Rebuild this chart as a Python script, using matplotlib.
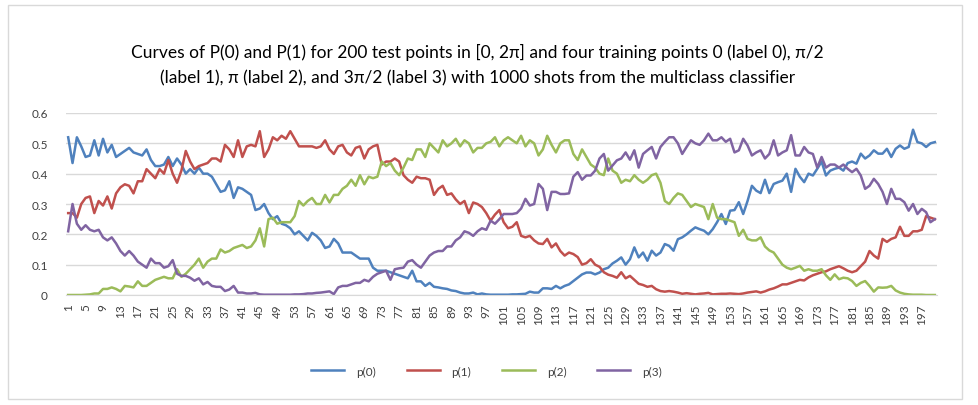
import numpy as np
import matplotlib
matplotlib.use("Agg")
import matplotlib.pyplot as plt
from matplotlib.patches import Rectangle

plt.rcParams['font.family'] = ['Lato', 'DejaVu Sans']

# test point index 1..200
points = list(range(1, 201))

p0 = [0.52, 0.435, 0.52, 0.49, 0.455, 0.46, 0.51, 0.46, 0.515, 0.47,
      0.495, 0.455, 0.465, 0.475, 0.485, 0.47, 0.465, 0.46, 0.48, 0.445,
      0.425, 0.425, 0.43, 0.455, 0.425, 0.45, 0.43, 0.40, 0.415, 0.40,
      0.42, 0.40, 0.40, 0.39, 0.365, 0.34, 0.345, 0.375, 0.32, 0.355,
      0.35, 0.34, 0.33, 0.28, 0.285, 0.30, 0.27, 0.25, 0.26, 0.235,
      0.23, 0.22, 0.20, 0.21, 0.195, 0.18, 0.205, 0.195, 0.18, 0.155,
      0.16, 0.185, 0.17, 0.14, 0.14, 0.14, 0.13, 0.12, 0.12, 0.12,
      0.09, 0.08, 0.08, 0.08, 0.075, 0.07, 0.065, 0.06, 0.055, 0.08,
      0.045, 0.045, 0.03, 0.04, 0.027, 0.025, 0.022, 0.02, 0.015, 0.013,
      0.008, 0.005, 0.005, 0.008, 0.002, 0.005, 0.002, 0.001, 0.001, 0.001,
      0.001, 0.001, 0.002, 0.002, 0.003, 0.004, 0.011, 0.008, 0.008, 0.022,
      0.022, 0.02, 0.03, 0.022, 0.03, 0.035, 0.046, 0.057, 0.068, 0.074,
      0.074, 0.068, 0.074, 0.085, 0.09, 0.104, 0.113, 0.124, 0.10, 0.118,
      0.157, 0.124, 0.14, 0.113, 0.146, 0.13, 0.14, 0.168, 0.162, 0.146,
      0.184, 0.19, 0.20, 0.212, 0.223, 0.217, 0.212, 0.20, 0.217, 0.24,
      0.267, 0.234, 0.278, 0.28, 0.306, 0.267, 0.31, 0.36, 0.344, 0.336,
      0.38, 0.336, 0.366, 0.372, 0.377, 0.40, 0.34, 0.416, 0.39, 0.372,
      0.40, 0.394, 0.416, 0.44, 0.394, 0.41, 0.416, 0.42, 0.41, 0.435,
      0.44, 0.433, 0.466, 0.45, 0.46, 0.477, 0.466, 0.466, 0.482, 0.455,
      0.482, 0.493, 0.482, 0.488, 0.545, 0.504, 0.50, 0.488, 0.50, 0.504]

p1 = [0.27, 0.27, 0.255, 0.30, 0.32, 0.325, 0.27, 0.31, 0.295, 0.325,
      0.285, 0.335, 0.355, 0.365, 0.36, 0.335, 0.375, 0.375, 0.415, 0.40,
      0.385, 0.415, 0.40, 0.445, 0.40, 0.37, 0.41, 0.475, 0.44, 0.415,
      0.425, 0.43, 0.435, 0.45, 0.45, 0.44, 0.495, 0.48, 0.455, 0.51,
      0.455, 0.49, 0.495, 0.49, 0.54, 0.455, 0.48, 0.52, 0.51, 0.525,
      0.515, 0.54, 0.515, 0.49, 0.49, 0.49, 0.49, 0.485, 0.49, 0.51,
      0.48, 0.465, 0.49, 0.495, 0.47, 0.46, 0.485, 0.49, 0.45, 0.48,
      0.49, 0.495, 0.43, 0.44, 0.44, 0.45, 0.44, 0.395, 0.38, 0.37,
      0.39, 0.385, 0.385, 0.38, 0.33, 0.35, 0.36, 0.33, 0.335, 0.315,
      0.30, 0.31, 0.27, 0.305, 0.30, 0.29, 0.27, 0.245, 0.265, 0.28,
      0.24, 0.22, 0.225, 0.24, 0.195, 0.19, 0.195, 0.18, 0.17, 0.168,
      0.185, 0.157, 0.17, 0.145, 0.13, 0.14, 0.135, 0.125, 0.10, 0.105,
      0.118, 0.10, 0.093, 0.075, 0.067, 0.063, 0.057, 0.075, 0.055, 0.063,
      0.05, 0.037, 0.033, 0.027, 0.03, 0.019, 0.013, 0.011, 0.013, 0.011,
      0.008, 0.004, 0.006, 0.004, 0.002, 0.004, 0.005, 0.007, 0.002, 0.003,
      0.004, 0.004, 0.005, 0.004, 0.003, 0.005, 0.008, 0.01, 0.012, 0.008,
      0.012, 0.018, 0.022, 0.028, 0.035, 0.035, 0.04, 0.045, 0.05, 0.048,
      0.058, 0.065, 0.07, 0.075, 0.078, 0.085, 0.09, 0.095, 0.088, 0.08,
      0.075, 0.08, 0.095, 0.11, 0.145, 0.13, 0.12, 0.185, 0.175, 0.185,
      0.19, 0.225, 0.195, 0.195, 0.21, 0.21, 0.215, 0.26, 0.255, 0.25]

p2 = [0.0, 0.0, 0.0, 0.0, 0.001, 0.002, 0.005, 0.005, 0.02, 0.02,
      0.025, 0.02, 0.012, 0.03, 0.028, 0.025, 0.045, 0.03, 0.03, 0.04,
      0.05, 0.055, 0.06, 0.055, 0.055, 0.085, 0.06, 0.07, 0.085, 0.10,
      0.12, 0.09, 0.11, 0.12, 0.12, 0.15, 0.14, 0.145, 0.155, 0.16,
      0.165, 0.155, 0.16, 0.18, 0.22, 0.16, 0.25, 0.255, 0.235, 0.24,
      0.24, 0.24, 0.26, 0.31, 0.295, 0.31, 0.32, 0.30, 0.30, 0.33,
      0.305, 0.33, 0.33, 0.35, 0.36, 0.38, 0.36, 0.395, 0.365, 0.39,
      0.385, 0.39, 0.44, 0.425, 0.435, 0.41, 0.395, 0.42, 0.45, 0.445,
      0.48, 0.48, 0.455, 0.50, 0.485, 0.47, 0.51, 0.49, 0.50, 0.515,
      0.49, 0.51, 0.50, 0.47, 0.485, 0.485, 0.50, 0.505, 0.52, 0.49,
      0.51, 0.52, 0.51, 0.50, 0.525, 0.49, 0.51, 0.50, 0.46, 0.48,
      0.525, 0.495, 0.47, 0.50, 0.51, 0.51, 0.465, 0.445, 0.48, 0.455,
      0.43, 0.42, 0.40, 0.395, 0.45, 0.41, 0.40, 0.37, 0.38, 0.375,
      0.395, 0.38, 0.37, 0.38, 0.395, 0.40, 0.37, 0.31, 0.30, 0.32,
      0.335, 0.33, 0.31, 0.29, 0.30, 0.295, 0.29, 0.25, 0.30, 0.255,
      0.25, 0.25, 0.245, 0.24, 0.195, 0.215, 0.185, 0.18, 0.18, 0.19,
      0.16, 0.147, 0.14, 0.12, 0.10, 0.09, 0.085, 0.09, 0.096, 0.08,
      0.085, 0.08, 0.08, 0.085, 0.065, 0.05, 0.068, 0.052, 0.057, 0.055,
      0.046, 0.03, 0.04, 0.046, 0.03, 0.011, 0.025, 0.024, 0.025, 0.03,
      0.015, 0.008, 0.004, 0.002, 0.001, 0.001, 0.001, 0.0, 0.0, 0.0]

p3 = [0.21, 0.30, 0.235, 0.215, 0.23, 0.215, 0.21, 0.215, 0.19, 0.18,
      0.19, 0.17, 0.145, 0.13, 0.145, 0.13, 0.11, 0.10, 0.09, 0.12,
      0.105, 0.105, 0.09, 0.095, 0.115, 0.07, 0.063, 0.063, 0.057, 0.047,
      0.055, 0.035, 0.043, 0.03, 0.027, 0.027, 0.013, 0.018, 0.03, 0.008,
      0.008, 0.005, 0.005, 0.007, 0.002, 0.001, 0.001, 0.001, 0.001, 0.001,
      0.001, 0.001, 0.002, 0.002, 0.003, 0.005, 0.005, 0.007, 0.008, 0.01,
      0.012, 0.003, 0.025, 0.03, 0.03, 0.035, 0.04, 0.04, 0.05, 0.045,
      0.06, 0.07, 0.075, 0.08, 0.05, 0.085, 0.088, 0.09, 0.11, 0.115,
      0.10, 0.09, 0.11, 0.13, 0.14, 0.145, 0.145, 0.16, 0.16, 0.18,
      0.19, 0.21, 0.205, 0.195, 0.21, 0.22, 0.215, 0.245, 0.235, 0.25,
      0.267, 0.267, 0.267, 0.27, 0.285, 0.317, 0.295, 0.30, 0.366, 0.35,
      0.28, 0.34, 0.34, 0.333, 0.333, 0.335, 0.39, 0.405, 0.38, 0.394,
      0.394, 0.41, 0.45, 0.465, 0.41, 0.427, 0.444, 0.45, 0.47, 0.446,
      0.477, 0.42, 0.465, 0.477, 0.488, 0.45, 0.488, 0.505, 0.52, 0.52,
      0.50, 0.465, 0.488, 0.51, 0.50, 0.495, 0.51, 0.532, 0.51, 0.51,
      0.52, 0.505, 0.515, 0.47, 0.477, 0.515, 0.493, 0.46, 0.47, 0.477,
      0.45, 0.465, 0.51, 0.46, 0.47, 0.477, 0.527, 0.46, 0.46, 0.488,
      0.47, 0.465, 0.42, 0.455, 0.42, 0.43, 0.43, 0.42, 0.43, 0.416,
      0.405, 0.416, 0.394, 0.35, 0.36, 0.383, 0.366, 0.34, 0.30, 0.35,
      0.317, 0.317, 0.306, 0.278, 0.30, 0.267, 0.284, 0.273, 0.24, 0.25]

labels = ['p(0)', 'p(1)', 'p(2)', 'p(3)']
colors = ['#4F81BD', '#C0504D', '#9BBB59', '#8064A2']
yticks = [0, 0.1, 0.2, 0.3, 0.4, 0.5, 0.6]
ytick_labels = ['0', '0.1', '0.2', '0.3', '0.4', '0.5', '0.6']

fig = plt.figure(figsize=(9.79, 4.06), dpi=100)
ax = fig.add_axes([66 / 979, 1 - 296 / 406, (937 - 66) / 979, (296 - 114) / 406])

for ys, lab, c in zip([p0, p1, p2, p3], labels, colors):
    ax.plot(points, ys, color=c, lw=1.8, label=lab, solid_joinstyle='round')

ax.set_xlim(0.5, 200.5)
ax.set_ylim(0, 0.6)
ax.set_yticks(yticks)
ax.set_yticklabels(ytick_labels)
ax.set_xticks(points[::4])
ax.set_xticklabels([str(p) for p in points[::4]], rotation=90)
ax.tick_params(axis='both', length=0, labelsize=8.5, colors='#404040')
ax.tick_params(axis='y', pad=13)
ax.tick_params(axis='x', pad=6)
ax.grid(axis='y', color='#d9d9d9', lw=1)
ax.set_axisbelow(True)
for s in ['top', 'right', 'left']:
    ax.spines[s].set_visible(False)
ax.spines['bottom'].set_color('#d9d9d9')

fig.text(0.488, 1 - 52 / 406,
         "Curves of P(0) and P(1) for 200 test points in [0, 2π] and four training points 0 (label 0), π/2",
         ha='center', va='center', fontsize=12.5, color='#000000')
fig.text(0.488, 1 - 78 / 406,
         "(label 1), π (label 2), and 3π/2 (label 3) with 1000 shots from the multiclass classifier",
         ha='center', va='center', fontsize=12.5, color='#000000')

fig.legend(loc='center', bbox_to_anchor=(0.497, 1 - 372 / 406), ncol=4, frameon=False,
           fontsize=8.5, handlelength=2.8, handletextpad=1.0, columnspacing=2.6,
           labelcolor='#404040')

fig.patches.append(Rectangle((8 / 979, 6 / 406), (962 - 8) / 979, (400 - 6) / 406,
                             transform=fig.transFigure, fill=False, edgecolor='#d9d9d9', lw=1))

fig.savefig('out.png', dpi=100)
